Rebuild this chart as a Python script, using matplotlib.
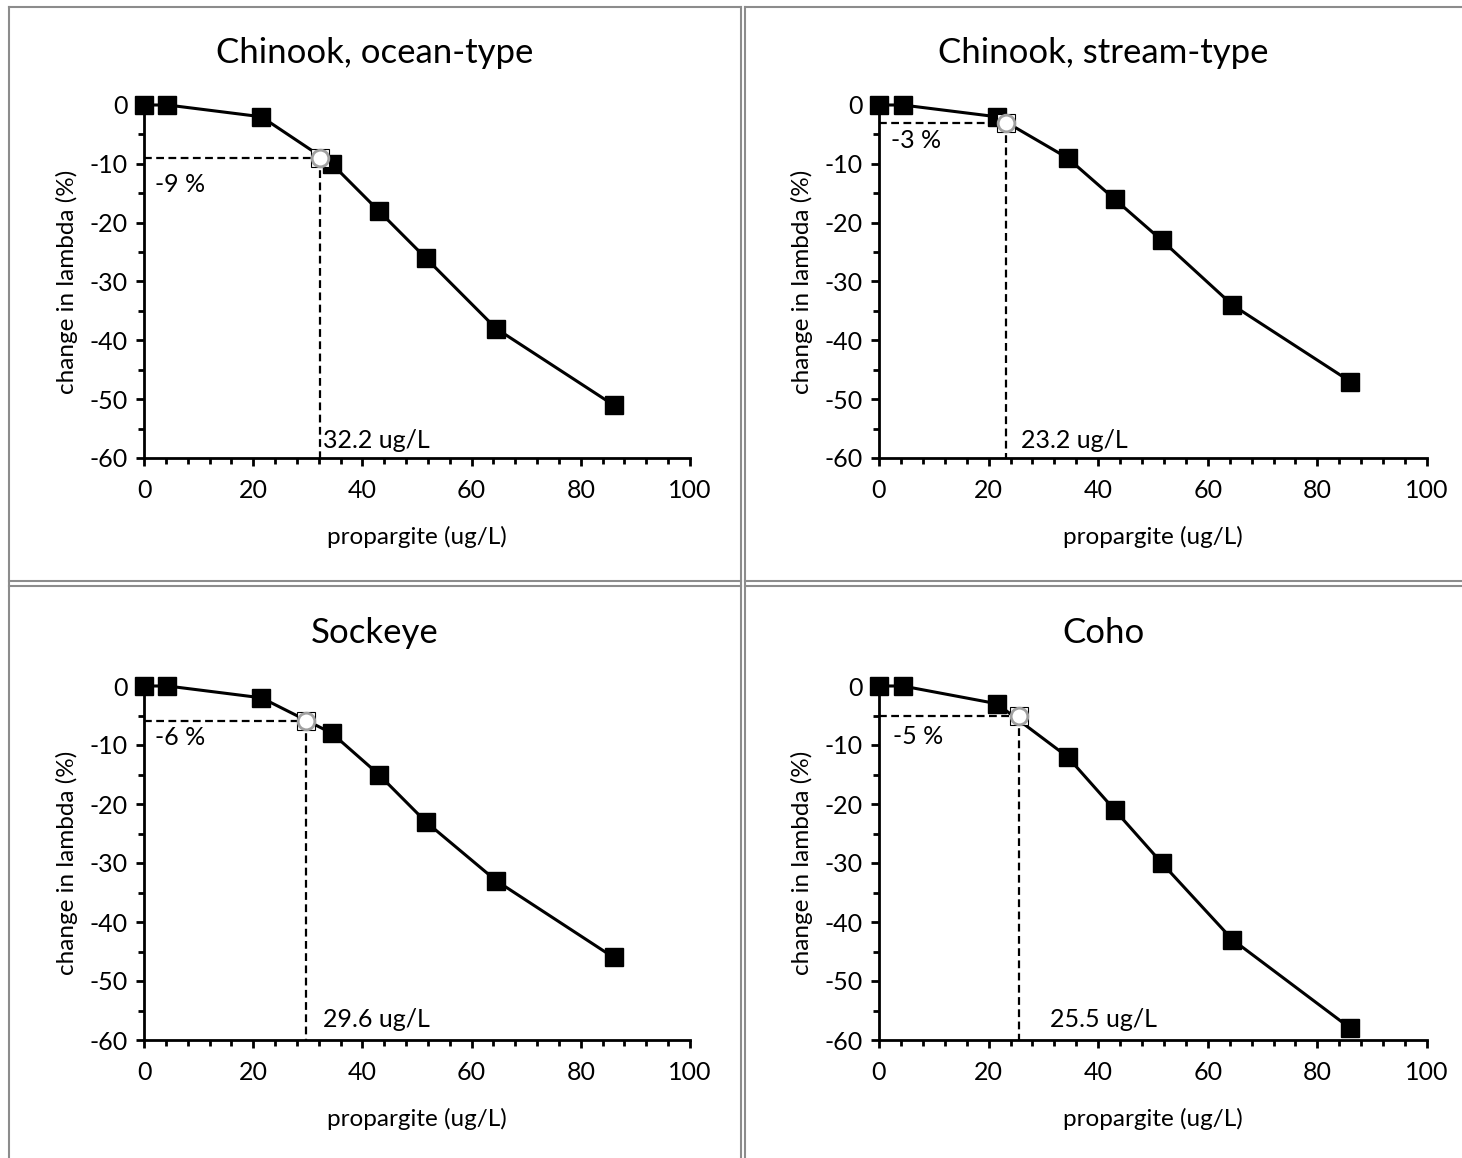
import matplotlib
matplotlib.use("Agg")
import matplotlib.pyplot as plt
from matplotlib.lines import Line2D
from matplotlib.ticker import MultipleLocator

plt.rcParams['font.family'] = ['Lato', 'DejaVu Sans']
plt.rcParams['axes.unicode_minus'] = False

# data
conc = [0, 4.3, 21.5, 34.4, 43, 51.6, 64.5, 86]
titles = ["Chinook, ocean-type", "Chinook, stream-type", "Sockeye", "Coho"]
ocean_type = [0, 0, -2, -10, -18, -26, -38, -51]
stream_type = [0, 0, -2, -9, -16, -23, -34, -47]
sockeye = [0, 0, -2, -8, -15, -23, -33, -46]
coho = [0, 0, -3, -12, -21, -30, -43, -58]
series = [ocean_type, stream_type, sockeye, coho]

thresh_x = [32.2, 23.2, 29.6, 25.5]
thresh_y = [-9, -3, -6, -5]
pct_labels = ["-9 %", "-3 %", "-6 %", "-5 %"]
conc_labels = ["32.2 ug/L", "23.2 ug/L", "29.6 ug/L", "25.5 ug/L"]
# where the annotation texts sit (data coords)
pct_pos = [(2, -13.5), (2.2, -6), (2, -8.8), (2.5, -8.6)]
conc_pos = [(32.8, -57), (25.9, -57), (32.8, -56.6), (31.2, -56.6)]

W, H = 1462, 1158
fig = plt.figure(figsize=(W / 100, H / 100), dpi=100)

# axes boxes in pixels: (left, right, top, bottom)
boxes = [(144, 690, 105, 458), (879, 1427, 105, 458),
         (144, 690, 686, 1040), (879, 1427, 686, 1040)]
cells = [(9, 741), (745, 1462), (9, 741), (745, 1462)]
title_y = [53, 53, 633, 633]

for i in range(4):
    l, r, t, b = boxes[i]
    ax = fig.add_axes([l / W, 1 - b / H, (r - l) / W, (b - t) / H])
    ax.set_xlim(0, 100)
    ax.set_ylim(-60, 0)
    ax.spines['top'].set_visible(False)
    ax.spines['right'].set_visible(False)
    ax.spines['left'].set_linewidth(2)
    ax.spines['bottom'].set_linewidth(2)
    ax.xaxis.set_major_locator(MultipleLocator(20))
    ax.xaxis.set_minor_locator(MultipleLocator(4))
    ax.yaxis.set_major_locator(MultipleLocator(10))
    ax.yaxis.set_minor_locator(MultipleLocator(5))
    ax.tick_params(which='major', direction='out', length=6, width=2, labelsize=18, pad=6)
    ax.tick_params(axis='x', which='major', pad=9)
    ax.tick_params(which='minor', direction='out', length=4, width=2)
    ax.set_xlabel("propargite (ug/L)", fontsize=17.5, labelpad=17)
    ax.set_ylabel("change in lambda (%)", fontsize=17.5, labelpad=8)

    # threshold guide lines
    ax.plot([0, thresh_x[i]], [thresh_y[i], thresh_y[i]], ls='--', color='black',
            lw=1.6, dashes=(3.5, 2), clip_on=False, zorder=3)
    ax.plot([thresh_x[i], thresh_x[i]], [thresh_y[i], -60], ls='--', color='black',
            lw=1.6, dashes=(3.5, 2), clip_on=False, zorder=3)

    ax.plot(conc, series[i], color='black', lw=2.2, marker='s', markersize=13.5,
            clip_on=False, zorder=4)
    ax.plot([thresh_x[i]], [thresh_y[i]], marker='s', markersize=13, mfc='white',
            mec='black', mew=0.8, clip_on=False, zorder=5)
    ax.plot([thresh_x[i]], [thresh_y[i]], marker='o', markersize=12, mfc='white',
            mec='#a0a0a0', mew=2, clip_on=False, zorder=6)

    ax.text(pct_pos[i][0], pct_pos[i][1], pct_labels[i], fontsize=18, va='center', ha='left')
    ax.text(conc_pos[i][0], conc_pos[i][1], conc_labels[i], fontsize=18, va='center', ha='left')

    cx = (cells[i][0] + cells[i][1]) / 2
    fig.text(cx / W, 1 - title_y[i] / H, titles[i], fontsize=25, ha='center', va='center')

# table-like cell borders
gray = '#8c8c8c'
def hline(y, x0, x1):
    fig.add_artist(Line2D([x0 / W, x1 / W], [1 - y / H, 1 - y / H], color=gray, lw=1.5))
def vline(x, y0, y1):
    fig.add_artist(Line2D([x / W, x / W], [1 - y0 / H, 1 - y1 / H], color=gray, lw=1.5))

hline(7, 9, 741)
hline(7, 745, 1462)
hline(581, 9, 741)
hline(586, 9, 741)
hline(581, 745, 1462)
hline(586, 745, 1462)
vline(9, 7, 1158)
vline(741, 7, 1158)
vline(745, 7, 1158)

fig.savefig("out.png", dpi=100)
